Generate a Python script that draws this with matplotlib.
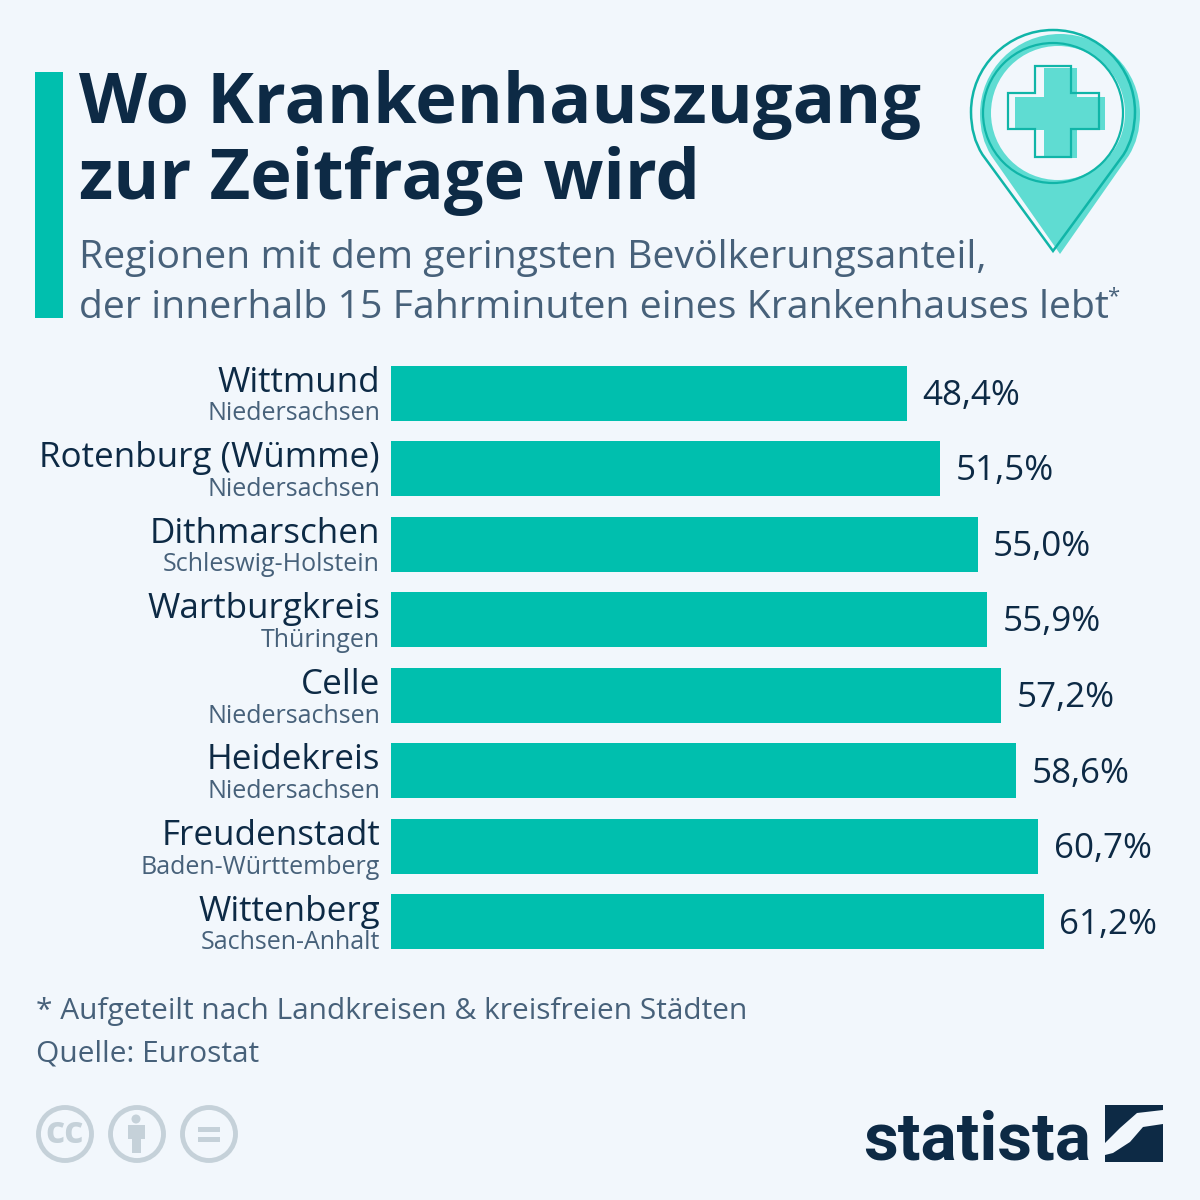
import matplotlib
matplotlib.use('Agg')
import matplotlib.pyplot as plt
from matplotlib.patches import Circle, Polygon, Rectangle, PathPatch
from matplotlib.path import Path

regionen = ['Wittmund', 'Rotenburg (Wümme)', 'Dithmarschen', 'Wartburgkreis',
            'Celle', 'Heidekreis', 'Freudenstadt', 'Wittenberg']
laender = ['Niedersachsen', 'Niedersachsen', 'Schleswig-Holstein', 'Thüringen',
           'Niedersachsen', 'Niedersachsen', 'Baden-Württemberg', 'Sachsen-Anhalt']
anteil = [48.4, 51.5, 55.0, 55.9, 57.2, 58.6, 60.7, 61.2]
labels = ['48,4%', '51,5%', '55,0%', '55,9%', '57,2%', '58,6%', '60,7%', '61,2%']

titel = ['Wo Krankenhauszugang', 'zur Zeitfrage wird']
untertitel = ['Regionen mit dem geringsten Bevölkerungsanteil,',
              'der innerhalb 15 Fahrminuten eines Krankenhauses lebt']
fussnote = '* Aufgeteilt nach Landkreisen & kreisfreien Städten'
quelle = 'Quelle: Eurostat'

BG = '#f2f7fc'
TEAL = '#00bfae'
NAVY = '#0d2a45'
SLATE = '#47617a'
ICON = '#5fdcd2'
LINE = '#10b5a8'
GREY = '#c5d1d9'

plt.rcParams['font.family'] = ['Open Sans', 'DejaVu Sans']

fig = plt.figure(figsize=(12, 12), dpi=100, facecolor=BG)

# bars
ax = fig.add_axes([391 / 1200, 1 - 960 / 1200, 800 / 1200, 605 / 1200])
ax.set_facecolor('none')
pos = list(range(len(anteil)))
ax.barh(pos, anteil, height=0.728, color=TEAL)
ax.set_xlim(0, 75)
ax.set_ylim(7.503, -0.503)
ax.axis('off')
for i, wert in enumerate(anteil):
    ax.annotate(labels[i], (wert, i), xytext=(11, -2), textcoords='offset points',
                va='center', ha='left', fontsize=25.2, color=NAVY)
    ax.annotate(regionen[i], (0, i), xytext=(-8, 7.5), textcoords='offset points',
                va='center', ha='right', fontsize=25.2, color=NAVY)
    ax.annotate(laender[i], (0, i), xytext=(-8, -15), textcoords='offset points',
                va='center', ha='right', fontsize=18, color=SLATE)

# everything else in pixel coords
bg = fig.add_axes([0, 0, 1, 1], zorder=3)
bg.set_xlim(0, 1200)
bg.set_ylim(1200, 0)
bg.axis('off')
bg.patch.set_alpha(0)

bg.add_patch(Rectangle((35, 72), 28, 246, color=TEAL, lw=0))
bg.text(79, 105, titel[0], fontsize=50.6, fontweight='bold', color=NAVY, va='center')
bg.text(79, 181, titel[1], fontsize=50.6, fontweight='bold', color=NAVY, va='center')
bg.text(79, 258, untertitel[0], fontsize=28.25, color=SLATE, va='center')
bg.text(79, 308, untertitel[1], fontsize=28.25, color=SLATE, va='center')
bg.text(1107, 297, '*', fontsize=16, color=SLATE, va='center')

bg.text(36, 1012, fussnote, fontsize=21.55, color=SLATE, va='center')
bg.text(36, 1054, quelle, fontsize=21.55, color=SLATE, va='center')


# pin shape, center cx/cy, radius r, tip at tipy
def pin(cx, cy, r, tipy, **kw):
    k = 0.5523 * r
    verts = [(cx, tipy), (cx - 0.86 * r, cy + 0.52 * r),
             (cx - r, cy + 0.3 * r), (cx - r, cy), (cx - r, cy - k), (cx - k, cy - r), (cx, cy - r),
             (cx + k, cy - r), (cx + r, cy - k), (cx + r, cy),
             (cx + r, cy + 0.3 * r), (cx + 0.86 * r, cy + 0.52 * r), (cx, tipy), (cx, tipy)]
    codes = [Path.MOVETO, Path.LINETO, Path.CURVE3, Path.LINETO, Path.CURVE4, Path.CURVE4, Path.CURVE4,
             Path.CURVE4, Path.CURVE4, Path.CURVE4, Path.CURVE3, Path.LINETO, Path.LINETO, Path.CLOSEPOLY]
    return PathPatch(Path(verts, codes), **kw)


def kreuz(cx, cy, a, b):
    return [(cx - a, cy - b), (cx + a, cy - b), (cx + a, cy - a), (cx + b, cy - a), (cx + b, cy + a),
            (cx + a, cy + a), (cx + a, cy + b), (cx - a, cy + b), (cx - a, cy + a), (cx - b, cy + a),
            (cx - b, cy - a), (cx - a, cy - a)]


bg.add_patch(pin(1060, 114, 80, 254, fc=ICON, ec='none'))
bg.add_patch(Circle((1058, 113), 67, fc=BG, ec='none'))
bg.add_patch(pin(1053, 112, 82, 251, fc='none', ec=LINE, lw=1.8))
bg.add_patch(Circle((1053, 113), 70, fc='none', ec=LINE, lw=1.6))
bg.add_patch(Polygon(kreuz(1060, 113, 16.5, 45), fc=ICON, ec='none'))
bg.add_patch(Polygon(kreuz(1053, 111, 18, 45.5), fc='none', ec=LINE, lw=1.6))

# cc icons
for cx in [65, 137, 209]:
    bg.add_patch(Circle((cx, 1134), 26.5, fc='none', ec=GREY, lw=3.5))
bg.text(65, 1133, 'cc', fontsize=27, fontweight='bold', color=GREY, ha='center', va='center')
bg.add_patch(Circle((136, 1119), 4.5, fc=GREY, ec='none'))
bg.add_patch(Polygon([(128, 1125), (145, 1125), (145, 1139), (141, 1139), (141, 1153),
                      (132, 1153), (132, 1139), (128, 1139)], fc=GREY, ec='none'))
bg.add_patch(Rectangle((198, 1127), 22, 5, color=GREY, lw=0))
bg.add_patch(Rectangle((198, 1137), 22, 5, color=GREY, lw=0))

# statista logo
bg.text(863, 1160, 'statista', fontsize=48.5, fontweight='bold', color=NAVY,
        family=['Roboto', 'DejaVu Sans'], va='baseline', ha='left')
bg.add_patch(Polygon([(1105, 1105), (1163, 1105), (1163, 1110), (1137, 1113), (1120, 1128), (1105, 1143)],
                     fc=NAVY, ec='none'))
bg.add_patch(Polygon([(1163, 1124), (1163, 1162), (1105, 1162), (1105, 1155), (1113, 1153), (1130, 1142),
                      (1143, 1127)], fc=NAVY, ec='none'))

fig.savefig('out.png', dpi=100, facecolor=BG)
